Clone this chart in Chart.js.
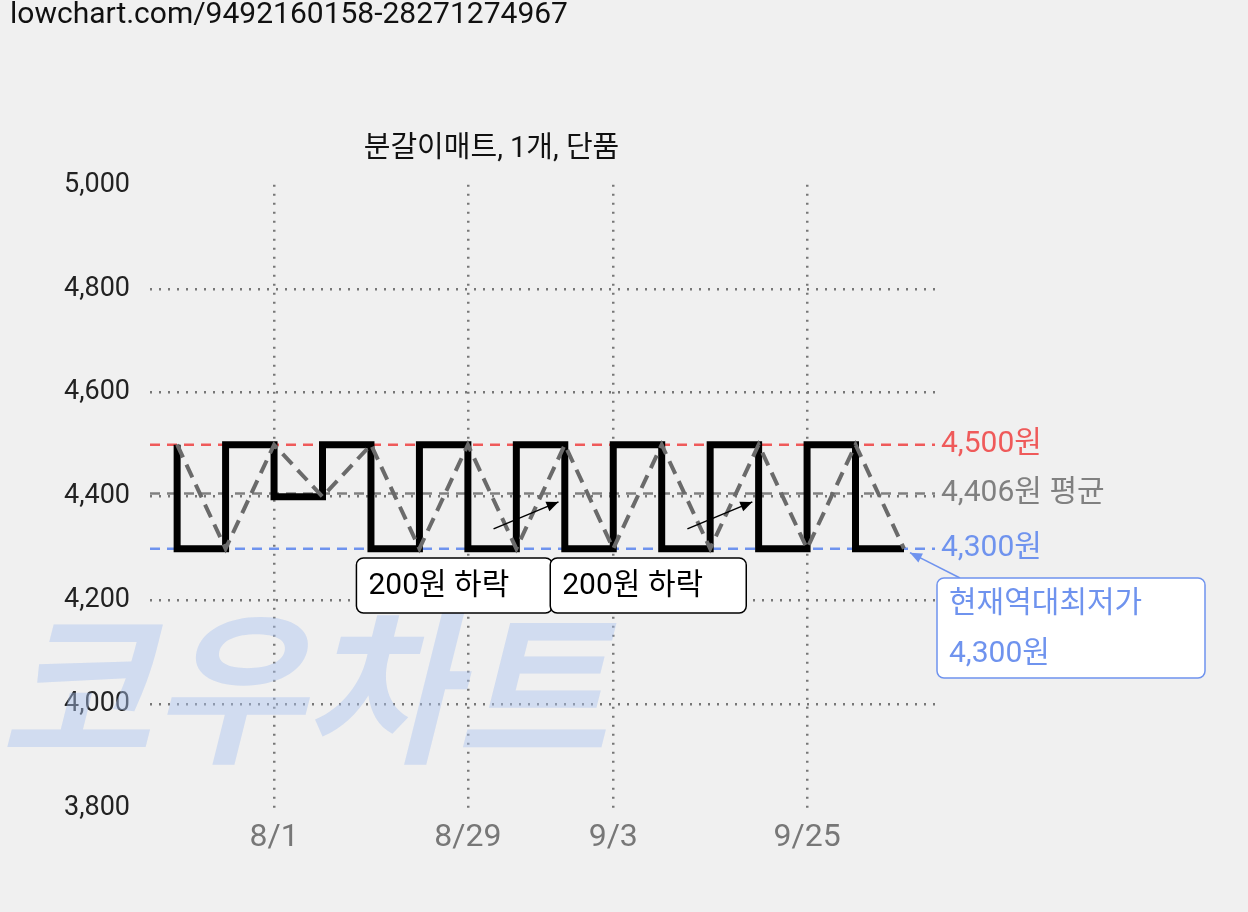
<!DOCTYPE html>
<html><head><meta charset="utf-8">
<script src="https://cdn.jsdelivr.net/npm/chart.js@4"></script>
<style>html,body{margin:0;background:#f0f0f0;}#w{width:1248px;height:912px;position:relative;}</style>
</head><body><div id="w"><canvas id="c" width="1248" height="912"></canvas></div>
<script>
const prices=[4500,4300,4500,4400,4500,4300,4500,4300,4500,4300,4500,4300,4500,4300,4500,4300];
const tickIdx=[2,6,9,13];
const tickLabels=['8/1','8/29','9/3','9/25'];
const maxPrice=4500, avgPrice=4406, minPrice=4300;
const title='분갈이매트, 1개, 단품';
const F='Roboto,"Noto Sans CJK KR",sans-serif';
const pts=prices.map((v,i)=>({x:i,y:v}));
const deco={id:'deco',
 beforeDatasetsDraw(ch){const c=ch.ctx,xs=ch.scales.x,ys=ch.scales.y,a=ch.chartArea;c.save();
  c.font='bold italic 165px "Noto Sans CJK KR",sans-serif';c.fillStyle='rgba(170,195,240,0.45)';c.textBaseline='alphabetic';c.fillText('코우차트',0,750);
  const lines=[[maxPrice,'#ef5a5a'],[avgPrice,'#808080'],[minPrice,'#6f93ee']];
  c.lineWidth=2.5;c.setLineDash([10,7]);
  for(const[v,col]of lines){const y=ys.getPixelForValue(v);c.strokeStyle=col;c.beginPath();c.moveTo(a.left,y);c.lineTo(a.right,y);c.stroke();}
  c.restore();},
 afterDatasetsDraw(ch){const c=ch.ctx,xs=ch.scales.x,ys=ch.scales.y,a=ch.chartArea;c.save();
  c.font='30px '+F;c.textBaseline='middle';
  c.fillStyle='#ef5a5a';c.fillText('4,500원',a.right+6,ys.getPixelForValue(maxPrice));
  c.fillStyle='#808080';c.fillText('4,406원 평균',a.right+6,ys.getPixelForValue(avgPrice));
  c.fillStyle='#6f93ee';c.fillText('4,300원',a.right+6,ys.getPixelForValue(minPrice));
  function arrow(x1,y1,x2,y2,col){c.strokeStyle=col;c.fillStyle=col;c.lineWidth=1.5;c.setLineDash([]);c.beginPath();c.moveTo(x1,y1);c.lineTo(x2,y2);c.stroke();
   const ang=Math.atan2(y2-y1,x2-x1),L=13;c.beginPath();c.moveTo(x2,y2);c.lineTo(x2-L*Math.cos(ang-0.4),y2-L*Math.sin(ang-0.4));c.lineTo(x2-L*Math.cos(ang+0.4),y2-L*Math.sin(ang+0.4));c.closePath();c.fill();}
  function box(x,y,w,h,lines,col,border){c.fillStyle='#fff';c.strokeStyle=border;c.lineWidth=1.5;c.beginPath();c.roundRect(x,y,w,h,7);c.fill();c.stroke();
   c.fillStyle=col;c.font='30px '+F;c.textBaseline='middle';lines.forEach((t,i)=>c.fillText(t,x+12,y+h/(lines.length*2)*(2*i+1)+1));}
  for(const k of [7,11]){const hx=xs.getPixelForValue(k+0.87),hy=ys.getPixelForValue(4390);
   const bx=xs.getPixelForValue(k-3.3);arrow(xs.getPixelForValue(k-0.47),ys.getPixelForValue(4338),hx,hy,'#000');
   box(bx,ys.getPixelForValue(4282),196,55,['200원 하락'],'#000','#000');}
  const ex=xs.getPixelForValue(15),ey=ys.getPixelForValue(4300);
  arrow(960,578,ex+6,ey+4,'#6f93ee');
  box(937,578,268,100,['현재역대최저가','4,300원'],'#6f93ee','#6f93ee');
  c.restore();}};
new Chart(document.getElementById('c'),{type:'line',
 data:{datasets:[
  {data:pts,borderColor:'#000',borderWidth:7,stepped:'after',pointRadius:0,order:2},
  {data:pts,borderColor:'#6a6a6a',borderWidth:4,borderDash:[14,8],pointRadius:0,order:1}]},
 options:{responsive:false,animation:false,devicePixelRatio:1,
  layout:{padding:{left:48,right:313,top:0,bottom:45}},
  plugins:{legend:{display:false},tooltip:{enabled:false},
   title:{display:true,text:title,color:'#111',font:{family:F,size:29,weight:'normal'},padding:{top:132,bottom:18}}},
  scales:{
   x:{type:'linear',min:-0.56,max:15.64,
    afterBuildTicks(s){s.ticks=tickIdx.map(v=>({value:v}));},
    ticks:{autoSkip:false,maxRotation:0,color:'#777',font:{family:F,size:32},padding:10,callback:(v)=>tickLabels[tickIdx.indexOf(v)]},
    grid:{color:'#777',lineWidth:2.5,drawTicks:false},border:{display:false,dash:[2,7]}},
   y:{min:3800,max:5000,afterFit(s){s.width=102;},
    ticks:{stepSize:200,color:'#222',font:{family:F,size:27},padding:20,callback:v=>v.toLocaleString('en-US')},
    grid:{color:c=>(c.tick&&(c.tick.value==5000||c.tick.value==3800))?'rgba(0,0,0,0)':'#777',lineWidth:2.5,drawTicks:false},
    border:{display:false,dash:[2,7]}}}},
 plugins:[deco,{id:'hdr',afterDraw(ch){const c=ch.ctx;c.save();c.font='30px '+F;c.fillStyle='#111';c.textBaseline='top';c.fillText('lowchart.com/9492160158-28271274967',10,0);c.restore();}}]
});
</script></body></html>
